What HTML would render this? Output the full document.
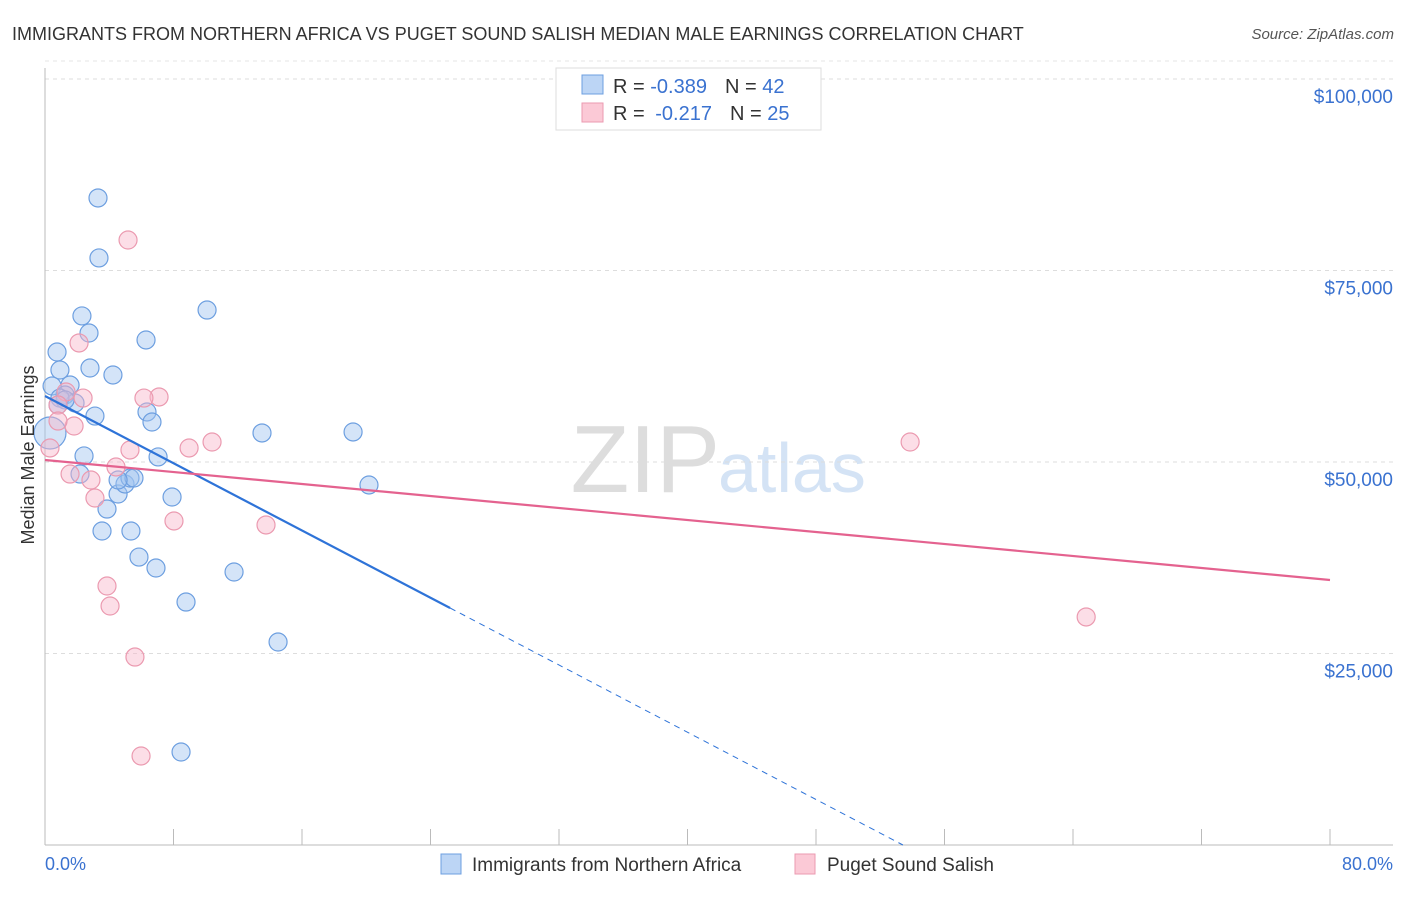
<!DOCTYPE html>
<html><head><meta charset="utf-8"><style>
body{margin:0;background:#fff;font-family:"Liberation Sans",sans-serif;}
svg text{font-family:"Liberation Sans",sans-serif;}
</style></head><body>
<svg width="1406" height="892" viewBox="0 0 1406 892">
<text x="12" y="40" font-size="18" fill="#333">IMMIGRANTS FROM NORTHERN AFRICA VS PUGET SOUND SALISH MEDIAN MALE EARNINGS CORRELATION CHART</text>
<text x="1394" y="39" font-size="15" fill="#555" font-style="italic" text-anchor="end">Source: ZipAtlas.com</text>
<text x="720" y="492" font-size="96" fill="#ddd" text-anchor="end" font-family="Liberation Serif">ZIP</text>
<text x="718" y="492" font-size="70" fill="#d4e3f5">atlas</text>
<g id="grid"></g>
<g id="axes"></g>
<g id="marks"></g>
<text transform="translate(34,455) rotate(-90)" font-size="18" fill="#333" text-anchor="middle">Median Male Earnings</text>
<text x="45" y="870" font-size="18" fill="#3a72d0">0.0%</text>
<text x="1393" y="870" font-size="18" fill="#3a72d0" text-anchor="end">80.0%</text>
<g>
<rect x="556" y="68" width="265" height="62" fill="#fff" stroke="#ddd"/>
<rect x="582" y="75" width="21" height="19" fill="#bcd5f5" stroke="#6d9fe0"/>
<rect x="582" y="103" width="21" height="19" fill="#fbc9d6" stroke="#eb9ab0"/>
<text x="613" y="93" font-size="20" fill="#333">R = <tspan fill="#3a72d0">-0.389</tspan><tspan dx="18">N = </tspan><tspan fill="#3a72d0">42</tspan></text>
<text x="613" y="120" font-size="20" fill="#333">R = <tspan fill="#3a72d0" dx="5">-0.217</tspan><tspan dx="18">N = </tspan><tspan fill="#3a72d0">25</tspan></text>
</g>
<g>
<rect x="441" y="854" width="20" height="20" fill="#bcd5f5" stroke="#6d9fe0"/>
<text x="472" y="871" font-size="19" fill="#333">Immigrants from Northern Africa</text>
<rect x="795" y="854" width="20" height="20" fill="#fbc9d6" stroke="#eb9ab0"/>
<text x="827" y="871" font-size="19" fill="#333">Puget Sound Salish</text>
</g>
</svg>
<script>
const yTicks=[25000,50000,75000,100000];
const yTickLabels=["$25,000","$50,000","$75,000","$100,000"];
const xTicks=[0,8,16,24,32,40,48,56,64,72,80];
const blueX=[3.30,3.36,2.30,2.74,6.29,10.09,0.75,0.93,2.80,4.23,0.44,1.56,1.25,1.87,3.11,6.35,6.66,13.51,19.18,2.43,7.04,2.18,4.55,4.98,5.29,5.54,4.55,7.91,20.17,3.86,3.55,5.35,5.85,6.91,11.77,8.78,14.51,8.47,0.31,0.93,1.25,0.81];
const blueY=[84.47,76.64,69.07,66.84,65.93,69.84,64.36,62.01,62.27,61.36,59.92,60.05,58.75,57.70,56.00,56.53,55.22,53.79,53.92,50.79,50.66,48.43,45.82,47.13,47.91,47.91,47.65,45.43,47.00,43.86,40.99,40.99,37.59,36.16,35.64,31.72,26.50,12.14,53.79,58.35,58.10,57.44];
const blueR=[9,9,9,9,9,9,9,9,9,9,9,9,9,9,9,9,9,9,9,9,9,9,9,9,9,9,9,9,9,9,9,9,9,9,9,9,9,9,16,9,9,9];
const pinkX=[5.17,2.12,2.37,7.10,6.16,1.31,0.81,1.81,0.81,0.31,5.29,8.97,10.40,1.56,2.86,4.42,3.11,8.03,13.76,3.86,4.05,5.60,5.98,53.86,64.82];
const pinkY=[78.98,65.54,58.35,58.49,58.35,59.14,57.44,54.70,55.35,51.83,51.57,51.83,52.61,48.43,47.65,49.35,45.30,42.30,41.78,33.81,31.20,24.54,11.62,52.61,29.77];
const blueTrend=[58.62,-1.0975]; // intercept (k$), slope per %
const pinkTrend=[50.26,-0.1958];
const X=v=>45+v*16.0625, Y=v=>845-v*1000/130.55;
const NS="http://www.w3.org/2000/svg";
function mk(p,t,a){const e=document.createElementNS(NS,t);for(const k in a)e.setAttribute(k,a[k]);p.appendChild(e);return e;}
const grid=document.getElementById('grid'),axes=document.getElementById('axes'),marks=document.getElementById('marks');
yTicks.forEach((t,i)=>{const y=Y(t/1000);
const l=mk(grid,'line',{x1:45,x2:1393,y1:y,y2:y,stroke:'#ddd','stroke-dasharray':'4,4'});


const tx=mk(grid,'text',{x:1393,y:y+24,'font-size':19,fill:'#3a72d0','text-anchor':'end'});tx.textContent=yTickLabels[i];

});
const tl=mk(grid,'line',{x1:45,x2:1393,y1:Y(100)-18,y2:Y(100)-18,stroke:'#e4e4e4','stroke-dasharray':'4,4'});


const ya=mk(axes,'line',{x1:45,x2:45,y1:68,y2:845,stroke:'#bbb'});


const xa=mk(axes,'line',{x1:45,x2:1393,y1:845,y2:845,stroke:'#bbb'});


xTicks.forEach(t=>{const x=X(t);const k=mk(axes,'line',{x1:x,x2:x,y1:829,y2:845,stroke:'#bbb'});

});
blueX.forEach((v,i)=>{const c=mk(marks,'circle',{cx:X(v),cy:Y(blueY[i]),r:blueR[i],fill:'rgba(160,196,240,0.45)',stroke:'#6d9fe0','stroke-width':1.2});

});
pinkX.forEach((v,i)=>{const c=mk(marks,'circle',{cx:X(v),cy:Y(pinkY[i]),r:9,fill:'rgba(248,182,202,0.45)',stroke:'#eb9ab0','stroke-width':1.2});

});
const bx1=25.22, bx2=-blueTrend[0]/blueTrend[1];
const b1=mk(marks,'line',{x1:X(0),y1:Y(blueTrend[0]),x2:X(bx1),y2:Y(blueTrend[0]+blueTrend[1]*bx1),stroke:'#2e73d8','stroke-width':2.2});


const b2=mk(marks,'line',{x1:X(bx1),y1:Y(blueTrend[0]+blueTrend[1]*bx1),x2:X(bx2),y2:Y(0),stroke:'#2e73d8','stroke-width':1,'stroke-dasharray':'6,5'});


const p1=mk(marks,'line',{x1:X(0),y1:Y(pinkTrend[0]),x2:X(80),y2:Y(pinkTrend[0]+pinkTrend[1]*80),stroke:'#e4628f','stroke-width':2.2});


</script>
</body></html>
